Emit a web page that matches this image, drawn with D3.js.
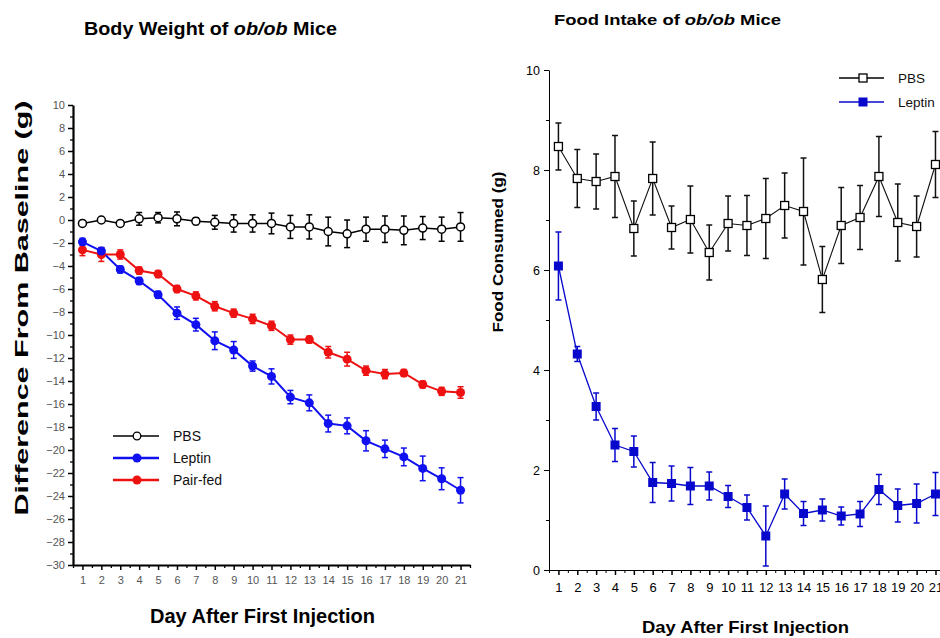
<!DOCTYPE html>
<html><head><meta charset="utf-8">
<script src="https://cdn.jsdelivr.net/npm/d3@7"></script>
<style>
body{margin:0;background:#fff}
svg{display:block}
text{font-family:"Liberation Sans",Arial,Helvetica,sans-serif}
</style>
</head><body>
<svg id="c" width="940" height="638"></svg>
<script>
// ---------- DATA ----------
const days = [1,2,3,4,5,6,7,8,9,10,11,12,13,14,15,16,17,18,19,20,21];

// Body weight change (g)
const pbsBW     = [-0.3,0.0,-0.3,0.1,0.2,0.1,-0.1,-0.2,-0.3,-0.3,-0.3,-0.6,-0.6,-1.0,-1.2,-0.8,-0.8,-0.9,-0.7,-0.8,-0.6];
const pbsBWErr  = [0.2,0.2,0.2,0.55,0.45,0.6,0.3,0.6,0.75,0.75,0.9,1.0,1.05,1.25,1.2,1.05,1.15,1.25,1.0,1.05,1.25];
const leptinBW  = [-1.9,-2.7,-4.3,-5.3,-6.5,-8.1,-9.1,-10.5,-11.3,-12.7,-13.6,-15.4,-15.9,-17.7,-17.9,-19.2,-19.9,-20.6,-21.6,-22.5,-23.5];
const leptinBWErr = [0.3,0.3,0.3,0.3,0.3,0.54,0.55,0.77,0.73,0.44,0.66,0.58,0.69,0.73,0.69,0.88,0.76,0.77,1.07,0.95,1.1];
const pairBW    = [-2.6,-3.0,-3.0,-4.4,-4.7,-6.0,-6.6,-7.5,-8.1,-8.6,-9.2,-10.4,-10.4,-11.5,-12.1,-13.1,-13.4,-13.3,-14.3,-14.9,-15.0];
const pairBWErr = [0.5,0.6,0.4,0.3,0.3,0.3,0.35,0.4,0.35,0.4,0.4,0.4,0.3,0.5,0.6,0.4,0.4,0.3,0.3,0.35,0.5];

// Food consumed (g)
const pbsFood     = [8.47,7.83,7.77,7.87,6.83,7.83,6.85,7.01,6.35,6.93,6.89,7.03,7.29,7.17,5.81,6.89,7.05,7.87,6.95,6.87,8.11];
const pbsFoodErr  = [0.47,0.58,0.55,0.82,0.55,0.73,0.43,0.67,0.55,0.55,0.6,0.8,0.65,1.07,0.66,0.76,0.64,0.8,0.77,0.61,0.66];
const leptinFood    = [6.08,4.32,3.27,2.5,2.37,1.75,1.73,1.68,1.68,1.47,1.25,0.68,1.52,1.13,1.2,1.08,1.12,1.61,1.29,1.33,1.52];
const leptinFoodErr = [0.68,0.15,0.27,0.33,0.31,0.4,0.35,0.37,0.28,0.22,0.25,0.6,0.3,0.24,0.22,0.18,0.25,0.3,0.33,0.39,0.43];

const bwTicks   = [10,8,6,4,2,0,-2,-4,-6,-8,-10,-12,-14,-16,-18,-20,-22,-24,-26,-28,-30];
const bwMinor   = [9,7,5,3,1,-1,-3,-5,-7,-9,-11,-13,-15,-17,-19,-21,-23,-25,-27,-29];
const foodTicks = [0,2,4,6,8,10];
const foodMinor = [1,3,5,7,9];
const dayMinor  = [0.5,1.5,2.5,3.5,4.5,5.5,6.5,7.5,8.5,9.5,10.5,11.5,12.5,13.5,14.5,15.5,16.5,17.5,18.5,19.5,20.5,21.5];

// ---------- CHART ----------
const svg = d3.select("#c");
const BLUE = "#1010f0", RED = "#ee1111", BLUE2 = "#0808cc";

function errBars(g, xs, ys, vals, errs, color, sw, cap){
  const grp = g.append("g").attr("stroke", color).attr("stroke-width", sw).attr("fill","none");
  days.forEach((d,i)=>{
    const x = xs(d), y1 = ys(vals[i]+errs[i]), y2 = ys(vals[i]-errs[i]);
    grp.append("line").attr("x1",x).attr("x2",x).attr("y1",y1).attr("y2",y2);
    grp.append("line").attr("x1",x-cap).attr("x2",x+cap).attr("y1",y1).attr("y2",y1);
    grp.append("line").attr("x1",x-cap).attr("x2",x+cap).attr("y1",y2).attr("y2",y2);
  });
}
function seriesLine(g, xs, ys, vals, color, sw){
  g.append("path").datum(vals)
   .attr("d", d3.line().x((v,i)=>xs(days[i])).y(v=>ys(v)))
   .attr("fill","none").attr("stroke",color).attr("stroke-width",sw);
}

// ===== LEFT: Body Weight =====
const xL = d3.scaleLinear().domain([0.5,21.5]).range([73,470]);
const yL = d3.scaleLinear().domain([-30,10]).range([565,105]);
const L = svg.append("g");

// y axis
const yAxL = L.append("g").attr("transform","translate(73,0)")
  .call(d3.axisLeft(yL).tickValues(bwTicks).tickSize(5).tickSizeOuter(0).tickPadding(3).tickFormat(d3.format("d")));
yAxL.select(".domain").attr("stroke-width",2.2);
yAxL.selectAll(".tick line").attr("stroke-width",1.5);
yAxL.selectAll(".tick text").attr("font-size",11).attr("fill","#555").attr("font-family","Liberation Sans, Arial");
L.append("g").attr("transform","translate(73,0)")
  .call(d3.axisLeft(yL).tickValues(bwMinor).tickSize(3).tickFormat(""))
  .call(g=>g.select(".domain").remove()).selectAll("line").attr("stroke-width",1.3);

// x axis
const xAxL = L.append("g").attr("transform","translate(0,565)")
  .call(d3.axisBottom(xL).tickValues(days).tickSize(5).tickSizeOuter(0).tickPadding(6));
xAxL.select(".domain").attr("stroke-width",2.2);
xAxL.selectAll(".tick line").attr("stroke-width",1.5);
xAxL.selectAll(".tick text").attr("font-size",11).attr("fill","#555");
L.append("g").attr("transform","translate(0,565)")
  .call(d3.axisBottom(xL).tickValues(dayMinor).tickSize(3).tickFormat(""))
  .call(g=>g.select(".domain").remove()).selectAll("line").attr("stroke-width",1.3);

// series
errBars(L, xL, yL, pbsBW, pbsBWErr, "#000", 1.5, 3);
errBars(L, xL, yL, pairBW, pairBWErr, RED, 1.5, 3);
errBars(L, xL, yL, leptinBW, leptinBWErr, BLUE, 1.5, 3);
seriesLine(L, xL, yL, pbsBW, "#000", 1.5);
seriesLine(L, xL, yL, pairBW, RED, 2);
seriesLine(L, xL, yL, leptinBW, BLUE, 2);
L.append("g").selectAll("circle").data(pairBW).join("circle")
  .attr("cx",(v,i)=>xL(days[i])).attr("cy",v=>yL(v)).attr("r",4.5).attr("fill",RED);
L.append("g").selectAll("circle").data(leptinBW).join("circle")
  .attr("cx",(v,i)=>xL(days[i])).attr("cy",v=>yL(v)).attr("r",4.5).attr("fill",BLUE);
L.append("g").selectAll("circle").data(pbsBW).join("circle")
  .attr("cx",(v,i)=>xL(days[i])).attr("cy",v=>yL(v)).attr("r",4).attr("fill","#fff").attr("stroke","#000").attr("stroke-width",1.5);

// legend
const legL = [["PBS","#000",1.5,true],["Leptin",BLUE,2.5,false],["Pair-fed",RED,2.5,false]];
legL.forEach((d,i)=>{
  const y = 436 + i*22;
  L.append("line").attr("x1",113).attr("x2",159).attr("y1",y).attr("y2",y).attr("stroke",d[1]).attr("stroke-width",d[2]);
  if(d[3]) L.append("circle").attr("cx",137).attr("cy",y).attr("r",3.8).attr("fill","#fff").attr("stroke","#000").attr("stroke-width",1.3);
  else L.append("circle").attr("cx",137).attr("cy",y).attr("r",4.5).attr("fill",d[1]);
  L.append("text").attr("x",173).attr("y",y+5).attr("font-size",14).attr("fill","#111").text(d[0]);
});

// titles / labels
const t1 = L.append("text").attr("x",84).attr("y",35).attr("font-size",17.5).attr("font-weight","bold")
  .attr("textLength",253).attr("lengthAdjust","spacingAndGlyphs");
t1.append("tspan").text("Body Weight of ");
t1.append("tspan").attr("font-style","italic").text("ob/ob");
t1.append("tspan").text(" Mice");
L.append("text").attr("transform","translate(28,308) rotate(-90)").attr("text-anchor","middle")
  .attr("font-size",18).attr("font-weight","bold").attr("textLength",415).attr("lengthAdjust","spacingAndGlyphs")
  .text("Difference From Baseline (g)");
L.append("text").attr("x",150).attr("y",623).attr("font-size",20).attr("font-weight","bold")
  .attr("textLength",225).attr("lengthAdjust","spacingAndGlyphs").text("Day After First Injection");

// ===== RIGHT: Food Intake =====
const xR = d3.scaleLinear().domain([0.5,21.5]).range([549,944.9]);
const yR = d3.scaleLinear().domain([0,10]).range([570,70]);
const R = svg.append("g");

const yAxR = R.append("g").attr("transform","translate(549,0)")
  .call(d3.axisLeft(yR).tickValues(foodTicks).tickSize(5).tickSizeOuter(0).tickPadding(4).tickFormat(d3.format("d")));
yAxR.selectAll(".tick text").attr("font-size",12.5).attr("fill","#000");
R.append("g").attr("transform","translate(549,0)")
  .call(d3.axisLeft(yR).tickValues(foodMinor).tickSize(3).tickFormat(""))
  .call(g=>g.select(".domain").remove());
const xAxR = R.append("g").attr("transform","translate(0,570)")
  .call(d3.axisBottom(xR).tickValues(days).tickSize(5).tickSizeOuter(0).tickPadding(8));
xAxR.selectAll(".tick line").attr("stroke-width",1.5);
xAxR.selectAll(".tick text").attr("font-size",13).attr("fill","#000");
R.append("g").attr("transform","translate(0,570)")
  .call(d3.axisBottom(xR).tickValues(dayMinor).tickSize(3).tickFormat(""))
  .call(g=>g.select(".domain").remove());

errBars(R, xR, yR, pbsFood, pbsFoodErr, "#111", 1.5, 3);
errBars(R, xR, yR, leptinFood, leptinFoodErr, BLUE2, 1.5, 3);
seriesLine(R, xR, yR, pbsFood, "#111", 1.1);
seriesLine(R, xR, yR, leptinFood, BLUE2, 1.3);
R.append("g").selectAll("rect").data(pbsFood).join("rect")
  .attr("x",(v,i)=>xR(days[i])-4).attr("y",v=>yR(v)-4).attr("width",8).attr("height",8)
  .attr("fill","#fff").attr("stroke","#000").attr("stroke-width",1.3);
R.append("g").selectAll("rect").data(leptinFood).join("rect")
  .attr("x",(v,i)=>xR(days[i])-4.5).attr("y",v=>yR(v)-4.5).attr("width",9).attr("height",9)
  .attr("fill",BLUE2);

const legR = [["PBS","#000",true],["Leptin",BLUE2,false]];
legR.forEach((d,i)=>{
  const y = 78 + i*24;
  R.append("line").attr("x1",839).attr("x2",884).attr("y1",y).attr("y2",y).attr("stroke",d[1]).attr("stroke-width",1.3);
  if(d[2]) R.append("rect").attr("x",859).attr("y",y-4).attr("width",8).attr("height",8).attr("fill","#fff").attr("stroke","#000").attr("stroke-width",1.3);
  else R.append("rect").attr("x",858.5).attr("y",y-4.5).attr("width",9).attr("height",9).attr("fill",d[1]);
  R.append("text").attr("x",898).attr("y",y+5).attr("font-size",13.5).attr("fill","#111").text(d[0]);
});

const t2 = R.append("text").attr("x",554).attr("y",25).attr("font-size",15.5).attr("font-weight","bold")
  .attr("textLength",227).attr("lengthAdjust","spacingAndGlyphs");
t2.append("tspan").text("Food Intake of ");
t2.append("tspan").attr("font-style","italic").text("ob/ob");
t2.append("tspan").text(" Mice");
R.append("text").attr("transform","translate(503,252) rotate(-90)").attr("text-anchor","middle")
  .attr("font-size",15.5).attr("font-weight","bold").attr("textLength",161).attr("lengthAdjust","spacingAndGlyphs")
  .text("Food Consumed (g)");
R.append("text").attr("x",642).attr("y",633).attr("font-size",17).attr("font-weight","bold")
  .attr("textLength",207).attr("lengthAdjust","spacingAndGlyphs").text("Day After First Injection");
</script>
</body></html>
